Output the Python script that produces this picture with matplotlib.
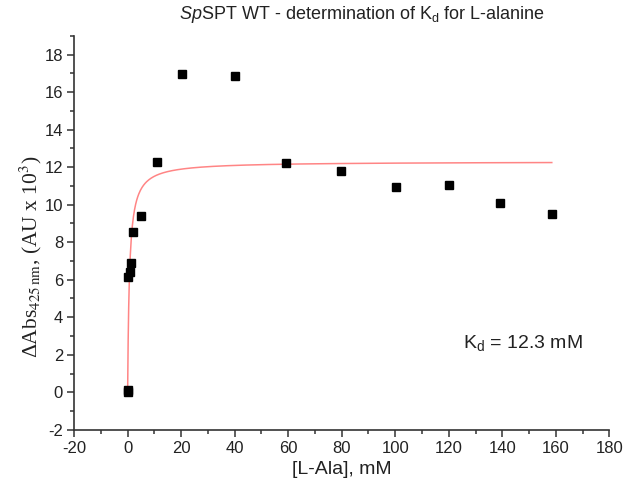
import numpy as np
import matplotlib
matplotlib.use("Agg")
import matplotlib.pyplot as plt
from matplotlib.ticker import MultipleLocator

plt.rcParams['font.family'] = ['Liberation Sans', 'DejaVu Sans']
plt.rcParams['mathtext.fontset'] = 'custom'
plt.rcParams['mathtext.rm'] = 'Liberation Sans'
plt.rcParams['mathtext.it'] = 'Liberation Sans:italic'
plt.rcParams['mathtext.bf'] = 'Liberation Sans:bold'
plt.rcParams['axes.unicode_minus'] = False

# Data
ala_mM = [0.0, 0.05, 0.3, 0.8, 1.2, 2.0, 5.0, 10.8, 20.3, 40.0, 59.2, 79.8, 100.2, 120.0, 139.3, 158.5]
dabs = [0.0, 0.12, 6.16, 6.43, 6.88, 8.53, 9.40, 12.28, 16.95, 16.88, 12.21, 11.81, 10.96, 11.03, 10.11, 9.50]

# Fit curve parameters (hyperbolic binding model)
fit_bmax = 12.3
fit_k = 0.68
kd_label = "K$_\\mathrm{d}$ = 12.3 mM"

fig = plt.figure(figsize=(6.27, 4.93), dpi=100)
ax = fig.add_axes([0.1182, 0.1282, 0.8536, 0.799])

xf = np.linspace(0, max(ala_mM), 800)
yf = fit_bmax * xf / (fit_k + xf)
ax.plot(xf, yf, color='#ff8585', lw=1.1, zorder=2)
ax.plot(ala_mM, dabs, 's', color='black', ms=6, zorder=3)

ax.set_xlim(-20, 180)
ax.set_ylim(-2, 19)
ax.xaxis.set_major_locator(MultipleLocator(20))
ax.xaxis.set_minor_locator(MultipleLocator(10))
ax.yaxis.set_major_locator(MultipleLocator(2))
ax.yaxis.set_minor_locator(MultipleLocator(1))

for s in ['top', 'right']:
    ax.spines[s].set_visible(False)
for s in ['left', 'bottom']:
    ax.spines[s].set_color('#333333')
    ax.spines[s].set_linewidth(1.2)
ax.tick_params(which='major', direction='out', length=5, width=1.1, color='#333333',
               labelsize=12, labelcolor='#222222', pad=3)
ax.tick_params(which='minor', direction='out', length=2.8, width=1.1, color='#333333')

ax.set_xlabel('[L-Ala], mM', fontsize=14, color='#222222', labelpad=4)
fig.text(0.049, 0.48, 'ΔAbs$_{425\\,\\mathrm{nm}}$, (AU x 10$^{3}$)', rotation=90,
         ha='center', va='center', fontsize=15.5, family='Liberation Serif',
         math_fontfamily='stix', color='#222222')

fig.text(0.578, 0.970, '$\\mathit{Sp}$SPT WT - determination of K$_\\mathrm{d}$ for L-alanine',
         ha='center', va='center', fontsize=13, color='#222222')
fig.text(0.738, 0.304, kd_label, ha='left', va='center', fontsize=14, color='#222222')

fig.savefig('out.png', dpi=100)
